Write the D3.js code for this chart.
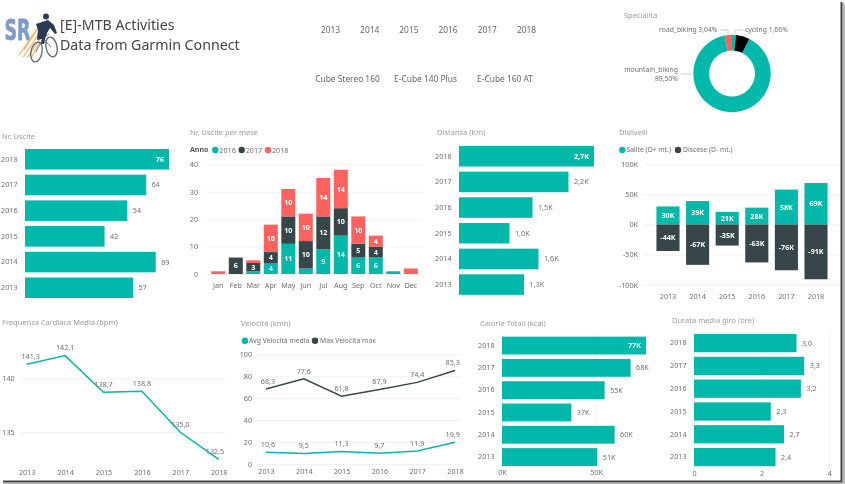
<!DOCTYPE html>
<html>
<head>
<meta charset="utf-8">
<script src="https://cdn.jsdelivr.net/npm/d3@7"></script>
<style>
    html, body { margin: 0; padding: 0; background: #fff; overflow: hidden; }
    svg { display: block; filter: blur(0.3px); }
    text { font-family: "Noto Sans", "Open Sans", sans-serif; }
</style>
</head>
<body>
<script>
// Dati
const yearsAsc = ["2013", "2014", "2015", "2016", "2017", "2018"];
const yearsDesc = ["2018", "2017", "2016", "2015", "2014", "2013"];
const bikes = ["Cube Stereo 160", "E-Cube 140 Plus", "E-Cube 160 AT"];

const uscite = [76, 64, 54, 42, 69, 57];
const distanza = [2.7, 2.19, 1.47, 1.01, 1.59, 1.3];
const calorie = [76.6, 68.4, 54.6, 36.9, 59.9, 50.7];
const durata = [3.03, 3.26, 3.16, 2.27, 2.66, 2.41];

const months = ["Jan", "Feb", "Mar", "Apr", "May", "Jun", "Jul", "Aug", "Sep", "Oct", "Nov", "Dec"];
const anni = ["2016", "2017", "2018"];
const mese2016 = [0, 0, 1, 4, 11, 2, 9, 14, 6, 6, 1, 0];
const mese2017 = [0, 6, 3, 4, 10, 10, 12, 10, 5, 4, 0, 0];
const mese2018 = [1, 0, 1, 10, 10, 10, 14, 14, 10, 4, 0, 2];

const salite = [30, 39, 21, 28, 58, 69];
const discese = [-44, -67, -35, -63, -76, -91];

const frequenza = [141.3, 142.1, 138.7, 138.8, 135.0, 132.5];
const velMedia = [10.6, 9.5, 11.3, 9.7, 11.9, 19.9];
const velMax = [68.3, 77.6, 61.8, 67.9, 74.4, 85.3];

const specialita = ["cycling", "", "mountain_biking", "road_biking"];
const specialitaPct = [1.66, 5.8, 89.5, 3.04];

const TEAL = "#01B8AA", DARK = "#374649", RED = "#FD625E";
const GREY = "#6f6f6f", TITLE = "#9c9c9c", GRID = "#f1f1f1";

const it = d3.formatLocale({decimal: ",", thousands: ".", grouping: [3], currency: ["€", ""]});
const f1 = it.format(".1f"), f2 = it.format(".2f");

const svg = d3.select("body").append("svg").attr("width", 845).attr("height", 484);

function label(x, y, text, opts = {}) {
    return svg.append("text")
        .attr("x", x).attr("y", y)
        .attr("dy", "0.35em")
        .attr("text-anchor", opts.anchor || "start")
        .attr("font-size", opts.size || 7.2)
        .attr("font-weight", opts.weight || "normal")
        .attr("fill", opts.color || GREY)
        .text(text);
}

function dot(x, y, color) {
    svg.append("circle").attr("cx", x).attr("cy", y).attr("r", 3.2).attr("fill", color);
}

// Stile comune degli assi
function styleAxis(g, size = 7.2) {
    g.select(".domain").remove();
    g.selectAll(".tick line").attr("stroke", GRID);
    g.selectAll(".tick text")
        .attr("fill", GREY)
        .attr("font-size", size)
        .attr("font-family", '"Noto Sans", "Open Sans", sans-serif');
    return g;
}

// Barre orizzontali
function hbars(cfg) {
    const y = d3.scaleBand().domain(yearsDesc).range(cfg.yRange).paddingInner(0.2).paddingOuter(0.1);
    const x = d3.scaleLinear().domain(cfg.domain).range(cfg.xRange);

    label(cfg.titleX, cfg.titleY, cfg.title, {color: TITLE, size: 7.5});

    if (cfg.ticks) {
        const grid = svg.append("g").attr("transform", `translate(0,${cfg.yRange[1]})`)
            .call(d3.axisBottom(x).tickValues(cfg.ticks).tickFormat(cfg.tickFormat)
                .tickSize(-(cfg.yRange[1] - cfg.yRange[0])).tickPadding(2));
        styleAxis(grid);
    }

    styleAxis(svg.append("g").attr("transform", `translate(${cfg.xRange[0]},0)`)
        .call(d3.axisLeft(y).tickSize(0).tickPadding(7.5)));

    svg.append("g").selectAll("rect").data(cfg.values).join("rect")
        .attr("x", x(0))
        .attr("y", (d, i) => y(yearsDesc[i]))
        .attr("width", d => x(d) - x(0))
        .attr("height", y.bandwidth())
        .attr("fill", TEAL);

    // La barra piu lunga ha l'etichetta dentro, in bianco
    cfg.values.forEach((d, i) => {
        const inside = cfg.insideFirst && i === 0;
        label(x(d) + (inside ? -5 : 5.5), y(yearsDesc[i]) + y.bandwidth() / 2, cfg.format(d), {
            anchor: inside ? "end" : "start",
            color: inside ? "#fff" : GREY,
            weight: inside ? "bold" : "normal"
        });
    });
}

// Intestazione
label(60, 25, "[E]-MTB Activities", {size: 14.2, color: "#444"});
label(60, 45, "Data from Garmin Connect", {size: 14.2, color: "#444"});

// Logo
const logo = svg.append("g");
logo.append("text").attr("x", 4.5).attr("y", 39.5)
    .attr("font-size", 28).attr("font-weight", "bold")
    .attr("fill", "#7f9bcb").attr("stroke", "#7f9bcb").attr("stroke-width", 0.8)
    .attr("textLength", 26).attr("lengthAdjust", "spacingAndGlyphs")
    .style("font-family", '"DejaVu Sans", sans-serif').text("SR");
[[19, 55, 39, 26], [23, 57, 41, 31], [27, 58, 42, 36], [31, 58, 40, 42], [24, 50, 42, 22]].forEach(s => {
    logo.append("line").attr("x1", s[0]).attr("y1", s[1]).attr("x2", s[2]).attr("y2", s[3])
        .attr("stroke", "#f3b566").attr("stroke-width", 1.3);
});
logo.append("ellipse").attr("cx", 36.5).attr("cy", 52).attr("rx", 5.5).attr("ry", 10)
    .attr("fill", "none").attr("stroke", "#5c6470").attr("stroke-width", 1.3).attr("transform", "rotate(12 36.5 52)");
logo.append("ellipse").attr("cx", 51.5).attr("cy", 47).attr("rx", 5.5).attr("ry", 10)
    .attr("fill", "none").attr("stroke", "#5c6470").attr("stroke-width", 1.3).attr("transform", "rotate(-12 51.5 47)");
logo.append("path").attr("d", "M36 52L43 38L51 47M43 38L49 34M41 42L47 43")
    .attr("fill", "none").attr("stroke", "#7a818c").attr("stroke-width", 1);
logo.append("circle").attr("cx", 46).attr("cy", 16.5).attr("r", 3).attr("fill", "#2b3a55");
logo.append("path").attr("d", "M36 24L48 20L54 25L57 33L55 34L50 28L47 33L46 37L37 38L38 30Z").attr("fill", "#2b3a55");
logo.append("path").attr("d", "M38 36L46 35L44 44L41 44L42 39L37 40Z").attr("fill", "#2b3a55");

// Filtri
const slicerX = d3.scalePoint().domain(yearsAsc).range([330.5, 526.5]);
yearsAsc.forEach(d => label(slicerX(d), 30, d, {anchor: "middle", size: 8.4, color: "#666"}));
const bikeX = [347.5, 425.5, 505];
bikes.forEach((d, i) => label(bikeX[i], 79, d, {anchor: "middle", size: 8.4, color: "#666"}));

// Specialita
label(624, 15, "Specialità", {color: TITLE, size: 7.5});
const donutColors = [TEAL, "#000", TEAL, RED];
const pie = d3.pie().sort(null).value(d => d);
const arc = d3.arc().innerRadius(23).outerRadius(38.7);
svg.append("g").attr("transform", "translate(732,73.5)")
    .selectAll("path").data(pie(specialitaPct)).join("path")
    .attr("d", arc)
    .attr("fill", (d, i) => donutColors[i]);
label(717.5, 30, `${specialita[3]} ${f2(specialitaPct[3])}%`, {anchor: "end", size: 6.8});
label(745, 30, `${specialita[0]} ${f2(specialitaPct[0])}%`, {size: 6.8});
label(678, 70, specialita[2], {anchor: "end", size: 6.8});
label(678, 79, `${f2(specialitaPct[2])}%`, {anchor: "end", size: 6.8});
svg.append("path").attr("d", "M720 30H728V34M743 30H735V34M681 74H692")
    .attr("fill", "none").attr("stroke", "#bbb").attr("stroke-width", 0.8);

// Nr. Uscite
hbars({
    title: "Nr. Uscite", titleX: 2, titleY: 136,
    values: uscite, domain: [0, 76], xRange: [25, 169], yRange: [146.4, 300.6],
    format: d => d, insideFirst: true
});

// Distanza
hbars({
    title: "Distanza (Km)", titleX: 437, titleY: 132.5,
    values: distanza, domain: [0, 2.7], xRange: [459, 594], yRange: [143.4, 297.4],
    format: d => f1(d) + "K", insideFirst: true
});

// Calorie
hbars({
    title: "Calorie Totali (kcal)", titleX: 480, titleY: 323,
    values: calorie, domain: [0, 50], xRange: [502, 596], yRange: [334.4, 468.2],
    format: d => Math.round(d) + "K", insideFirst: true,
    ticks: [0, 50], tickFormat: d => d + "K"
});

// Durata
hbars({
    title: "Durata media giro (ore)", titleX: 672, titleY: 320.5,
    values: durata, domain: [0, 4], xRange: [694, 829.3], yRange: [331.7, 468.5],
    format: d => f1(d), insideFirst: false,
    ticks: [0, 2, 4], tickFormat: d => d
});

// Nr. Uscite per mese
{
    label(190, 132.5, "Nr. Uscite per mese", {color: TITLE, size: 7.5});
    label(190, 150, "Anno", {weight: "bold", color: "#555", size: 7});
    [[215.3, TEAL], [241.7, DARK], [268, RED]].forEach((l, i) => {
        dot(l[0], 150, l[1]);
        label(l[0] + 4, 150, anni[i]);
    });

    const x = d3.scaleBand().domain(months).range([209.55, 419.55]).paddingInner(0.2).paddingOuter(0.1);
    const y = d3.scaleLinear().domain([0, 40]).range([274, 164.3]);

    styleAxis(svg.append("g").attr("transform", "translate(205,0)")
        .call(d3.axisLeft(y).tickValues([0, 10, 20, 30, 40]).tickSize(-218).tickPadding(7)));
    styleAxis(svg.append("g").attr("transform", "translate(0,274)")
        .call(d3.axisBottom(x).tickSize(0).tickPadding(9)));

    const rows = months.map((m, i) => ({month: m, 2016: mese2016[i], 2017: mese2017[i], 2018: mese2018[i]}));
    const series = d3.stack().keys(anni)(rows);
    const colors = [TEAL, DARK, RED];

    series.forEach((s, k) => {
        const g = svg.append("g");
        g.selectAll("rect").data(s).join("rect")
            .attr("x", d => x(d.data.month))
            .attr("y", d => y(d[1]))
            .attr("width", x.bandwidth())
            .attr("height", d => y(d[0]) - y(d[1]))
            .attr("fill", colors[k]);
        g.selectAll("text").data(s.filter(d => d[1] - d[0] >= 3)).join("text")
            .attr("x", d => x(d.data.month) + x.bandwidth() / 2)
            .attr("y", d => y((d[0] + d[1]) / 2))
            .attr("dy", "0.35em")
            .attr("text-anchor", "middle")
            .attr("font-size", 7.2)
            .attr("font-weight", "bold")
            .attr("fill", "#fff")
            .text(d => d[1] - d[0]);
    });
}

// Dislivelli
{
    label(619, 132, "Dislivelli", {color: TITLE, size: 7.5});
    dot(622.3, 150, TEAL);
    label(626.5, 150, "Salite (D+ mt.)", {size: 6.8});
    dot(678, 150, DARK);
    label(683, 150, "Discese (D- mt.)", {size: 6.8});

    const x = d3.scaleBand().domain(yearsAsc).range([653.2, 830.8]).paddingInner(0.22).paddingOuter(0.11);
    const y = d3.scaleLinear().domain([-100, 100]).range([284.7, 164.3]);

    styleAxis(svg.append("g").attr("transform", "translate(643,0)")
        .call(d3.axisLeft(y).tickValues([-100, -50, 0, 50, 100]).tickSize(-197).tickPadding(5)
            .tickFormat(d => (d < 0 ? "-" : "") + Math.abs(d) + "K")));
    styleAxis(svg.append("g").attr("transform", "translate(0,284.7)")
        .call(d3.axisBottom(x).tickSize(0).tickPadding(9)));

    [[salite, TEAL], [discese, DARK]].forEach(([vals, color]) => {
        svg.append("g").selectAll("rect").data(vals).join("rect")
            .attr("x", (d, i) => x(yearsAsc[i]))
            .attr("y", d => y(Math.max(d, 0)))
            .attr("width", x.bandwidth())
            .attr("height", d => Math.abs(y(d) - y(0)))
            .attr("fill", color);
        vals.forEach((d, i) => {
            label(x(yearsAsc[i]) + x.bandwidth() / 2, y(d / 2), (d < 0 ? "-" : "") + Math.abs(d) + "K", {
                anchor: "middle", color: "#fff", weight: "bold"
            });
        });
    });
}

// Linee con etichette; le etichette agli estremi restano dentro l'area
function lineSeries(values, x, y, color, clampX) {
    const line = d3.line().x((d, i) => x(yearsAsc[i])).y(d => y(d));
    svg.append("path").datum(values)
        .attr("d", line)
        .attr("fill", "none")
        .attr("stroke", color)
        .attr("stroke-width", 1.5);
    values.forEach((d, i) => {
        const px = Math.max(clampX[0], Math.min(clampX[1], x(yearsAsc[i])));
        label(px, y(d) - 7.7, f1(d), {anchor: "middle"});
    });
}

// Frequenza
{
    label(2, 322, "Frequenza Cardiaca Media (bpm)", {color: TITLE, size: 7.5});
    const x = d3.scalePoint().domain(yearsAsc).range([26.7, 218.7]);
    const y = d3.scaleLinear().domain([135, 140]).range([432.3, 378.3]);
    styleAxis(svg.append("g").attr("transform", "translate(20.7,0)")
        .call(d3.axisLeft(y).tickValues([135, 140]).tickFormat(d3.format("d")).tickSize(-204.3).tickPadding(6)));
    styleAxis(svg.append("g").attr("transform", "translate(0,464.5)")
        .call(d3.axisBottom(x).tickSize(0).tickPadding(5)));
    lineSeries(frequenza, x, y, TEAL, [30.7, 215]);
}

// Velocita
{
    label(241, 323, "Velocità (kmh)", {color: TITLE, size: 7.5});
    dot(245, 340.7, TEAL);
    label(249, 340.7, "Avg Velocità media", {size: 6.8});
    dot(315, 340.7, DARK);
    label(320, 340.7, "Max Velocità max", {size: 6.8});
    const x = d3.scalePoint().domain(yearsAsc).range([266, 455]);
    const y = d3.scaleLinear().domain([0, 100]).range([464, 354.3]);
    styleAxis(svg.append("g").attr("transform", "translate(256,0)")
        .call(d3.axisLeft(y).tickValues([0, 20, 40, 60, 80, 100]).tickSize(-205).tickPadding(4)));
    styleAxis(svg.append("g").attr("transform", "translate(0,464)")
        .call(d3.axisBottom(x).tickSize(0).tickPadding(5)));
    lineSeries(velMedia, x, y, TEAL, [268, 452.7]);
    lineSeries(velMax, x, y, DARK, [268, 452.7]);
}

// Bordo con ombra dello screenshot
svg.append("rect").attr("x", 842).attr("y", 3).attr("width", 3).attr("height", 481).attr("fill", "#bbb");
svg.append("rect").attr("x", 3).attr("y", 482).attr("width", 842).attr("height", 2).attr("fill", "#bbb");
svg.append("rect").attr("x", 840.5).attr("y", 2).attr("width", 1.8).attr("height", 480).attr("fill", "#444");
svg.append("rect").attr("x", 3).attr("y", 480.5).attr("width", 839).attr("height", 1.8).attr("fill", "#444");
</script>
</body>
</html>
